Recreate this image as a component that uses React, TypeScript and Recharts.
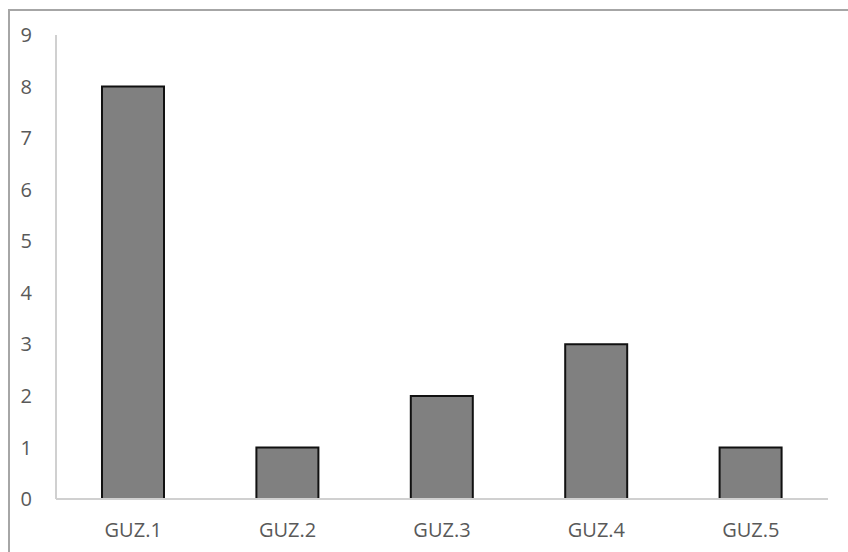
import { BarChart, Bar, XAxis, YAxis } from 'recharts';

const categories = ['GUZ.1', 'GUZ.2', 'GUZ.3', 'GUZ.4', 'GUZ.5'];
const counts = [8, 1, 2, 3, 1];
const yTicks = [0, 1, 2, 3, 4, 5, 6, 7, 8, 9];

const data = categories.map((name, i) => ({ name, value: counts[i] }));

const tickStyle = { fill: '#595959', fontSize: 20, fontFamily: '"Open Sans", sans-serif' };

export default function App() {
  return (
    <div
      style={{
        position: 'fixed',
        left: 8,
        top: 9,
        borderTop: '2px solid #a6a6a6',
        borderLeft: '2px solid #a6a6a6',
        width: 838,
        height: 541,
        overflow: 'hidden',
        background: '#fff',
      }}
    >
      <BarChart width={838} height={541} data={data} margin={{ top: 24, right: 20, bottom: 0, left: 0 }}>
        <XAxis
          dataKey="name"
          height={53}
          axisLine={{ stroke: '#d0d0d0', strokeWidth: 2 }}
          tickLine={false}
          tickSize={0}
          tickMargin={24}
          tick={tickStyle}
          interval={0}
        />
        <YAxis
          width={46}
          domain={[0, 9]}
          ticks={yTicks}
          axisLine={{ stroke: '#d0d0d0', strokeWidth: 2 }}
          tickLine={false}
          tickSize={0}
          tickMargin={24}
          tick={tickStyle}
          interval={0}
        />
        <Bar dataKey="value" fill="#808080" stroke="#111111" strokeWidth={2} barSize={62} isAnimationActive={false} />
      </BarChart>
    </div>
  );
}
